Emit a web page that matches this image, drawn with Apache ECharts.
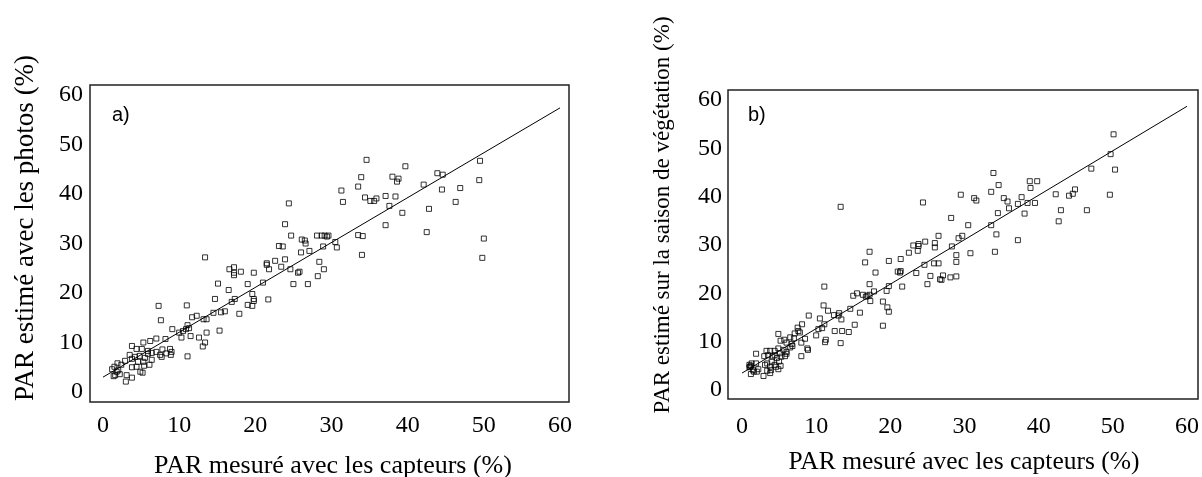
<!DOCTYPE html>
<html>
<head>
<meta charset="utf-8">
<script src="https://cdn.jsdelivr.net/npm/echarts@6/dist/echarts.min.js"></script>
<style>html,body{margin:0;padding:0;background:#fff;}#c{width:1202px;height:477px;}</style>
</head>
<body>
<div id="c"></div>
<script>
// ---- Data (panel a) ----
const ptsA = [
[24.4,38.1],[23.9,33.9],[24.7,31.6],[23.1,29.5],[23.6,29.4],[26.1,30.8],[26.5,30.6],[26.6,30.0],
[28.1,31.6],[28.7,31.6],[29.1,31.6],[29.4,31.4],[26.0,28.2],[27.1,28.5],[28.9,29.4],[13.4,27.2],
[28.4,26.3],[29.0,24.8],[28.2,23.4],[21.5,26.0],[21.5,25.7],[22.6,26.5],[23.9,26.8],[23.4,25.3],
[21.8,24.8],[24.6,24.8],[25.6,24.1],[25.8,24.3],[25.0,21.8],[26.9,21.8],[21.0,22.1],[16.6,24.8],
[17.2,25.2],[17.2,24.1],[17.2,23.6],[18.1,24.3],[19.8,24.1],[15.1,21.9],[19.0,21.8],[16.5,20.6],
[14.7,18.8],[17.3,18.8],[16.9,18.2],[19.6,19.8],[19.8,18.8],[19.8,18.4],[19.6,17.4],[19.0,17.6],
[21.7,18.7],[7.3,17.4],[11.0,17.5],[7.6,14.5],[12.3,15.4],[11.7,15.1],[13.2,14.7],[13.6,14.7],
[14.5,16.0],[15.5,16.1],[16.0,16.3],[17.9,15.8],[9.1,12.7],[11.1,13.5],[11.3,12.9],[10.9,12.7],
[10.0,12.0],[10.5,12.3],[10.3,11.0],[11.5,11.3],[13.6,12.0],[15.3,12.4],[12.6,11.0],[13.4,10.0],
[13.1,9.2],[8.2,10.7],[7.0,10.8],[6.2,10.3],[5.3,10.0],[3.8,9.3],[4.4,8.7],[5.1,8.7],
[5.9,8.3],[6.4,7.9],[7.0,8.1],[7.8,8.6],[8.8,8.7],[9.0,8.1],[8.9,7.5],[8.3,7.8],
[7.7,7.1],[11.1,7.2],[3.5,7.5],[2.9,6.3],[3.8,6.7],[4.6,6.1],[4.8,7.3],[5.5,6.9],
[6.4,6.5],[6.1,5.5],[5.4,5.3],[4.4,5.1],[3.8,5.0],[4.9,4.1],[5.2,3.9],[3.8,2.9],
[3.0,2.1],[3.1,3.4],[2.4,5.5],[1.9,5.8],[1.5,5.1],[1.2,4.6],[2.0,4.4],[1.6,3.4],
[1.4,3.2],[2.2,3.6],[1.8,4.1],[5.9,7.7],[7.5,7.5],[5.3,6.1],[4.2,7.1],
[34.6,46.9],[39.7,45.6],[33.9,43.4],[38.0,43.5],[38.8,43.1],[38.6,42.5],[43.9,44.2],[44.6,43.9],
[49.5,46.7],[49.4,42.8],[31.3,40.7],[33.5,41.5],[31.5,38.4],[34.4,39.3],[35.1,38.6],[35.6,38.6],
[35.9,39.1],[37.1,39.6],[38.4,39.5],[37.6,37.6],[39.3,36.2],[42.1,41.9],[44.5,40.9],[46.9,41.2],
[46.3,38.4],[42.8,37.0],[37.1,33.7],[42.5,32.3],[33.5,31.7],[34.1,31.5],[34.0,27.7],[50.0,31.0],
[49.8,27.1],[29.6,31.6],[30.5,30.3],[30.7,29.2]
];
const lineXA = [0, 60];
const lineYA = [3.0, 57.4];

// ---- Data (panel b) ----
const ptsB = [
[13.3,37.9],[24.4,38.8],[17.2,28.6],[23.1,29.9],[23.8,30.2],[23.8,29.8],[24.7,30.7],[23.7,28.8],
[26.0,30.4],[26.0,29.5],[26.5,31.9],[22.5,28.4],[16.6,26.4],[19.8,26.7],[21.4,27.1],[18.0,24.3],
[21.0,24.5],[21.4,24.6],[21.3,24.3],[23.5,24.2],[24.6,25.9],[25.9,26.2],[26.5,26.2],[25.4,23.6],
[25.0,21.9],[26.7,22.9],[21.6,21.4],[19.8,21.5],[17.2,21.9],[19.5,20.5],[17.8,20.4],[15.5,20.0],
[15.0,19.5],[16.3,19.7],[16.7,19.3],[16.9,19.5],[17.3,18.4],[17.2,19.7],[11.1,21.4],[19.0,18.3],
[19.6,17.1],[19.8,16.2],[19.0,13.3],[14.6,16.8],[15.9,16.0],[15.2,13.5],[11.0,17.5],[11.6,16.4],
[12.4,15.5],[13.1,15.9],[13.4,14.6],[13.0,15.4],[9.0,15.4],[10.5,14.8],[10.8,12.8],[10.3,12.6],
[10.0,11.3],[11.1,13.6],[12.5,12.2],[13.5,12.2],[14.4,12.0],[13.3,9.7],[11.3,10.4],[11.2,9.9],
[8.1,13.6],[7.5,12.9],[7.6,12.2],[8.5,10.6],[8.0,9.8],[7.8,11.9],[7.1,11.7],[7.0,10.7],
[6.5,10.9],[6.7,9.5],[6.8,9.1],[6.0,9.8],[5.7,10.4],[5.2,10.2],[4.9,11.6],[6.5,8.8],
[6.0,7.9],[5.6,8.3],[4.9,8.6],[4.4,8.1],[8.0,7.0],[8.8,8.6],[8.9,8.3],[1.9,7.5],
[3.3,8.1],[3.8,8.1],[3.0,7.0],[3.5,7.2],[4.1,6.9],[4.4,7.2],[4.7,6.6],[4.0,5.9],
[3.4,5.5],[3.1,5.2],[3.8,4.8],[4.4,5.2],[4.6,4.8],[3.9,4.1],[3.4,4.0],[3.8,3.5],
[2.9,2.9],[2.2,4.3],[2.0,3.8],[1.9,5.5],[1.3,5.5],[1.1,4.8],[1.5,4.1],[1.2,3.3],
[1.6,3.8],[1.0,5.2],[1.0,4.7],[1.2,5.0],[5.1,7.6],[5.3,6.9],[5.8,7.0],[6.0,7.5],
[5.0,5.9],[5.2,5.0],[4.9,4.3],
[50.1,52.9],[49.7,48.8],[50.3,45.6],[47.1,45.8],[49.6,40.4],[46.5,37.2],[42.7,34.9],[43.0,37.2],
[42.3,40.5],[44.1,40.2],[44.6,40.6],[44.9,41.5],[38.8,43.2],[39.8,43.2],[38.9,41.8],[39.5,38.7],
[38.5,38.7],[37.7,39.9],[37.2,38.5],[38.1,36.5],[33.9,44.9],[34.6,42.4],[33.6,41.0],[35.3,39.7],
[35.8,39.0],[36.0,37.6],[34.5,36.6],[33.6,34.1],[34.3,32.2],[37.2,31.0],[34.1,28.6],[29.5,40.4],
[31.3,39.7],[31.6,39.2],[28.2,35.6],[30.5,34.1],[29.2,31.4],[29.7,31.9],[28.3,29.7],[28.9,27.9],
[30.8,28.3],[28.9,26.5],[27.1,23.7],[26.9,22.8],[28.1,23.3],[28.9,23.5]
];
const lineXB = [0, 60];
const lineYB = [3.5, 58.7];

const tickValues = [0, 10, 20, 30, 40, 50, 60];
const xTitle = 'PAR mesuré avec les capteurs (%)';
const yTitleA = 'PAR estimé avec les photos (%)';
const yTitleB = 'PAR estimé sur la saison de végétation (%)';
const panelA = 'a)';
const panelB = 'b)';

const serif = '"Liberation Serif", "Times New Roman", serif';
const tickFont = 24;

function valAxis(gridIndex, showLabels) {
  return {
    type: 'value', gridIndex: gridIndex, min: 0, max: 60, interval: 10,
    axisLine: {show: false}, axisTick: {show: false}, splitLine: {show: false},
    axisLabel: {show: showLabels, fontFamily: serif, fontSize: tickFont, color: '#000'}
  };
}
function hiddenAxis(gridIndex) {
  return {type: 'value', gridIndex: gridIndex, min: 0, max: 1, show: false};
}

const chart = echarts.init(document.getElementById('c'), null, {renderer: 'canvas'});
const frameStyle = {show: true, borderColor: '#222', borderWidth: 1.5, backgroundColor: 'transparent'};

const xA = valAxis(0, true); xA.axisLabel.margin = 22;
const yA = valAxis(0, true); yA.axisLabel.margin = 20;
const xB = valAxis(1, true); xB.axisLabel.margin = 25;
const yB = valAxis(1, true); yB.axisLabel.margin = 20;

const scatterStyle = {
  type: 'scatter', symbol: 'rect', symbolSize: 5,
  itemStyle: {color: 'rgba(255,255,255,0)', borderColor: '#000', borderWidth: 1},
  emphasis: {disabled: true}, silent: true
};

chart.setOption({
  animation: false,
  backgroundColor: '#fff',
  grid: [
    {left: 103, right: 642, top: 95, bottom: 85},
    {left: 742, right: 15, top: 100, bottom: 87},
    Object.assign({left: 90, right: 633, top: 85, bottom: 75}, frameStyle),
    Object.assign({left: 728, right: 4, top: 90, bottom: 78}, frameStyle)
  ],
  xAxis: [xA, xB, hiddenAxis(2), hiddenAxis(3)],
  yAxis: [yA, yB, hiddenAxis(2), hiddenAxis(3)],
  series: [
    Object.assign({xAxisIndex: 0, yAxisIndex: 0, data: ptsA, z: 3}, scatterStyle),
    {type: 'line', xAxisIndex: 0, yAxisIndex: 0, data: lineXA.map((x, i) => [x, lineYA[i]]),
     symbol: 'none', lineStyle: {color: '#000', width: 1}, silent: true, z: 2},
    Object.assign({xAxisIndex: 1, yAxisIndex: 1, data: ptsB, z: 3}, scatterStyle),
    {type: 'line', xAxisIndex: 1, yAxisIndex: 1, data: lineXB.map((x, i) => [x, lineYB[i]]),
     symbol: 'none', lineStyle: {color: '#000', width: 1}, silent: true, z: 2}
  ],
  graphic: [
    {type: 'text', x: 333, y: 466, style: {text: xTitle, font: '26px ' + serif, fill: '#000', align: 'center', verticalAlign: 'middle'}},
    {type: 'text', x: 964, y: 462, style: {text: xTitle, font: '25.5px ' + serif, fill: '#000', align: 'center', verticalAlign: 'middle'}},
    {type: 'text', x: 26, y: 228, rotation: Math.PI / 2, style: {text: yTitleA, font: '27px ' + serif, fill: '#000', align: 'center', verticalAlign: 'middle'}},
    {type: 'text', x: 663, y: 215, rotation: Math.PI / 2, style: {text: yTitleB, font: '23px ' + serif, fill: '#000', align: 'center', verticalAlign: 'middle'}},
    {type: 'text', x: 112, y: 115, style: {text: panelA, font: '20px "Liberation Sans", "Open Sans", sans-serif', fill: '#000', align: 'left', verticalAlign: 'middle'}},
    {type: 'text', x: 748, y: 115, style: {text: panelB, font: '20px "Liberation Sans", "Open Sans", sans-serif', fill: '#000', align: 'left', verticalAlign: 'middle'}}
  ]
});
</script>
</body>
</html>
